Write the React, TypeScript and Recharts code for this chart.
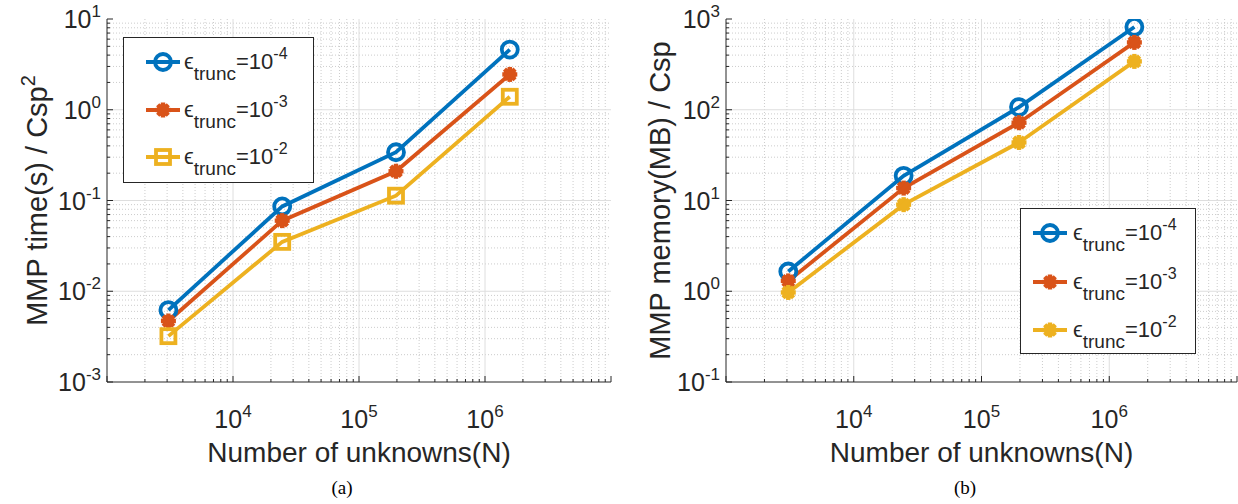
import React from 'react';
import { LineChart, Line, XAxis, YAxis, CartesianGrid } from 'recharts';

// problem sizes (N)
const unknowns = [3072, 24576, 196608, 1572864];

// MMP time(s) / Csp^2
const timeTrunc4 = [0.0062, 0.086, 0.34, 4.6];
const timeTrunc3 = [0.0047, 0.06, 0.21, 2.45];
const timeTrunc2 = [0.0032, 0.035, 0.113, 1.39];

// MMP memory(MB) / Csp
const memTrunc4 = [1.65, 18.7, 107, 817];
const memTrunc3 = [1.3, 13.7, 72, 552];
const memTrunc2 = [0.97, 9.0, 43.6, 341];

const truncExps = ['-4', '-3', '-2'];
const xDecades = [3, 4, 5, 6, 7];
const xLabelled = [4, 5, 6];
const timeDecades = [-3, -2, -1, 0, 1];
const memDecades = [-1, 0, 1, 2, 3];

const BLUE = '#0072BD';
const ORANGE = '#D95319';
const YELLOW = '#EDB120';
const INK = '#262626';
const FONT = '"Liberation Sans", Arial, Helvetica, sans-serif';
const LW = 3.8;

const timeData = unknowns.map((n, i) => ({ n, a: timeTrunc4[i], b: timeTrunc3[i], c: timeTrunc2[i] }));
const memData = unknowns.map((n, i) => ({ n, a: memTrunc4[i], b: memTrunc3[i], c: memTrunc2[i] }));

const majors = (dec: number[]) => dec.map((d) => Math.pow(10, d));
const minors = (dec: number[]) => {
  const out: number[] = [];
  dec.slice(0, -1).forEach((d) => {
    for (let m = 2; m <= 9; m++) out.push(m * Math.pow(10, d));
  });
  return out;
};
const isMajor = (v: number) => Math.abs(Math.log10(v) - Math.round(Math.log10(v))) < 1e-6;
const expOf = (v: number) => Math.round(Math.log10(v));

type MarkerKind = 'circle' | 'star' | 'square';

function Marker({ cx, cy, kind, color }: { cx: number; cy: number; kind: MarkerKind; color: string }) {
  if (kind === 'circle')
    return <circle cx={cx} cy={cy} r={8} fill="none" stroke={color} strokeWidth={LW} />;
  if (kind === 'square')
    return <rect x={cx - 7} y={cy - 7} width={14} height={14} fill="none" stroke={color} strokeWidth={LW} />;
  const a = 7.5;
  const d = 5.3;
  return (
    <g stroke={color} strokeWidth={4.4}>
      <circle cx={cx} cy={cy} r={6.3} fill={color} stroke="none" />
      <line x1={cx - a} y1={cy} x2={cx + a} y2={cy} />
      <line x1={cx} y1={cy - a} x2={cx} y2={cy + a} />
      <line x1={cx - d} y1={cy - d} x2={cx + d} y2={cy + d} />
      <line x1={cx - d} y1={cy + d} x2={cx + d} y2={cy - d} />
    </g>
  );
}

function Pow10({ x, y, exp, anchor }: { x: number; y: number; exp: number; anchor: 'middle' | 'end' }) {
  return (
    <text x={x} y={y} textAnchor={anchor} fontFamily={FONT} fontSize={25} fill={INK}>
      10
      <tspan dy={-11} fontSize={17}>
        {String(exp)}
      </tspan>
    </text>
  );
}

const bottomTick = (p: any) => {
  const v = p.payload.value;
  const major = isMajor(v);
  return (
    <g>
      <line x1={p.x} x2={p.x} y1={p.y} y2={p.y - (major ? 6 : 3)} stroke={INK} />
      {major && xLabelled.includes(expOf(v)) && <Pow10 x={p.x} y={p.y + 46} exp={expOf(v)} anchor="middle" />}
    </g>
  );
};

const topTick = (p: any) => {
  const major = isMajor(p.payload.value);
  return <line x1={p.x} x2={p.x} y1={p.y} y2={p.y + (major ? 6 : 3)} stroke={INK} />;
};

const leftTick = (p: any) => {
  const v = p.payload.value;
  const major = isMajor(v);
  return (
    <g>
      <line x1={p.x} x2={p.x + (major ? 6 : 3)} y1={p.y} y2={p.y} stroke={INK} />
      {major && <Pow10 x={p.x - 6} y={p.y + 9} exp={expOf(v)} anchor="end" />}
    </g>
  );
};

const rightTick = (p: any) => {
  const major = isMajor(p.payload.value);
  return <line x1={p.x} x2={p.x - (major ? 6 : 3)} y1={p.y} y2={p.y} stroke={INK} />;
};

type Series = { key: string; color: string; marker: MarkerKind };

const timeSeries: Series[] = [
  { key: 'a', color: BLUE, marker: 'circle' },
  { key: 'b', color: ORANGE, marker: 'star' },
  { key: 'c', color: YELLOW, marker: 'square' },
];
const memSeries: Series[] = [
  { key: 'a', color: BLUE, marker: 'circle' },
  { key: 'b', color: ORANGE, marker: 'star' },
  { key: 'c', color: YELLOW, marker: 'star' },
];

function LogPanel({
  data,
  series,
  yDecades,
  yTitle,
  ySup,
  width,
  yAxisWidth,
  marginRight,
  titleX,
}: {
  data: any[];
  series: Series[];
  yDecades: number[];
  yTitle: string;
  ySup?: string;
  width: number;
  yAxisWidth: number;
  marginRight: number;
  titleX: number;
}) {
  const xDomain = [Math.pow(10, xDecades[0]), Math.pow(10, xDecades[xDecades.length - 1])];
  const yDomain = [Math.pow(10, yDecades[0]), Math.pow(10, yDecades[yDecades.length - 1])];
  const xTicks = [...majors(xDecades), ...minors(xDecades)].sort((p, q) => p - q);
  const yTicks = [...majors(yDecades), ...minors(yDecades)].sort((p, q) => p - q);
  const xMajorGrid = majors(xLabelled);
  const yMajorGrid = majors(yDecades).slice(1, -1);

  return (
    <LineChart width={width} height={504} data={data} margin={{ top: 19, right: marginRight, bottom: 0, left: 0 }}>
      <CartesianGrid
        horizontalValues={minors(yDecades)}
        verticalValues={minors(xDecades)}
        stroke="#cccccc"
        strokeDasharray="1 2"
      />
      <CartesianGrid horizontalValues={yMajorGrid} verticalValues={xMajorGrid} stroke="#dedede" />
      <XAxis
        dataKey="n"
        type="number"
        scale="log"
        domain={xDomain}
        allowDataOverflow
        ticks={xTicks}
        interval={0}
        height={122}
        tickSize={0}
        tickMargin={0}
        tickLine={false}
        axisLine={{ stroke: INK }}
        tick={bottomTick}
        label={{
          content: (p: any) => {
            const vb = p.viewBox;
            return (
              <text x={vb.x + vb.width / 2} y={vb.y + 80} textAnchor="middle" fontFamily={FONT} fontSize={28} fill={INK}>
                Number of unknowns(N)
              </text>
            );
          },
        }}
      />
      <XAxis
        xAxisId="top"
        orientation="top"
        dataKey="n"
        type="number"
        scale="log"
        domain={xDomain}
        allowDataOverflow
        ticks={xTicks}
        interval={0}
        height={0}
        tickSize={0}
        tickMargin={0}
        tickLine={false}
        axisLine={{ stroke: INK }}
        tick={topTick}
      />
      <YAxis
        type="number"
        scale="log"
        domain={yDomain}
        allowDataOverflow
        ticks={yTicks}
        interval={0}
        width={yAxisWidth}
        tickSize={0}
        tickMargin={0}
        tickLine={false}
        axisLine={{ stroke: INK }}
        tick={leftTick}
        label={{
          content: (p: any) => {
            const vb = p.viewBox;
            const cy = vb.y + vb.height / 2;
            return (
              <text
                x={titleX}
                y={cy}
                transform={`rotate(-90 ${titleX} ${cy})`}
                textAnchor="middle"
                fontFamily={FONT}
                fontSize={29}
                fill={INK}
              >
                {yTitle}
                {ySup && (
                  <tspan dy={-12} fontSize={20}>
                    {ySup}
                  </tspan>
                )}
              </text>
            );
          },
        }}
      />
      <YAxis
        yAxisId="right"
        orientation="right"
        type="number"
        scale="log"
        domain={yDomain}
        allowDataOverflow
        ticks={yTicks}
        interval={0}
        width={0}
        tickSize={0}
        tickMargin={0}
        tickLine={false}
        axisLine={{ stroke: INK }}
        tick={rightTick}
      />
      {series.map((s) => (
        <Line
          key={s.key}
          dataKey={s.key}
          stroke={s.color}
          strokeWidth={LW}
          isAnimationActive={false}
          dot={(p: any) => <Marker key={`${s.key}-${p.index}`} cx={p.cx} cy={p.cy} kind={s.marker} color={s.color} />}
          activeDot={false}
        />
      ))}
    </LineChart>
  );
}

function LegendBox({
  left,
  top,
  width,
  height,
  series,
  rows,
  sampleX,
  textX,
}: {
  left: number;
  top: number;
  width: number;
  height: number;
  series: Series[];
  rows: number[];
  sampleX: number;
  textX: number;
}) {
  return (
    <svg style={{ position: 'absolute', left, top }} width={width} height={height}>
      <rect x={0.5} y={0.5} width={width - 1} height={height - 1} fill="#fff" stroke={INK} />
      {series.map((s, i) => (
        <g key={s.key}>
          <line x1={sampleX - 17} x2={sampleX + 17} y1={rows[i]} y2={rows[i]} stroke={s.color} strokeWidth={LW} />
          <Marker cx={sampleX} cy={rows[i]} kind={s.marker} color={s.color} />
          <text x={textX} y={rows[i] + 7} fontFamily={FONT} fontSize={22} fill={INK}>
            ϵ
            <tspan dy={11} fontSize={19}>
              trunc
            </tspan>
            <tspan dy={-11}>=10</tspan>
            <tspan dy={-10} fontSize={16}>
              {truncExps[i]}
            </tspan>
          </text>
        </g>
      ))}
    </svg>
  );
}

const captionStyle: React.CSSProperties = {
  position: 'absolute',
  top: 477,
  width: 84,
  textAlign: 'center',
  fontFamily: '"Liberation Serif", "Times New Roman", serif',
  fontSize: 19,
  color: '#000',
};

export default function App() {
  return (
    <div style={{ position: 'absolute', left: 0, top: 0, width: 1238, height: 504, background: '#fff', overflow: 'hidden' }}>
      <div style={{ position: 'absolute', left: 0, top: 0 }}>
        <LogPanel
          data={timeData}
          series={timeSeries}
          yDecades={timeDecades}
          yTitle="MMP time(s) / Csp"
          ySup="2"
          width={620}
          yAxisWidth={107}
          marginRight={9}
          titleX={47}
        />
      </div>
      <div style={{ position: 'absolute', left: 620, top: 0 }}>
        <LogPanel
          data={memData}
          series={memSeries}
          yDecades={memDecades}
          yTitle="MMP memory(MB) / Csp"
          width={618}
          yAxisWidth={106}
          marginRight={1}
          titleX={50}
        />
      </div>
      <LegendBox left={123} top={37} width={191} height={146} series={timeSeries} rows={[25, 73, 120]} sampleX={40} textX={61} />
      <LegendBox left={1020} top={208} width={176} height={146} series={memSeries} rows={[25, 74, 122]} sampleX={30} textX={53} />
      <div style={{ ...captionStyle, left: 300 }}>(a)</div>
      <div style={{ ...captionStyle, left: 923 }}>(b)</div>
    </div>
  );
}
